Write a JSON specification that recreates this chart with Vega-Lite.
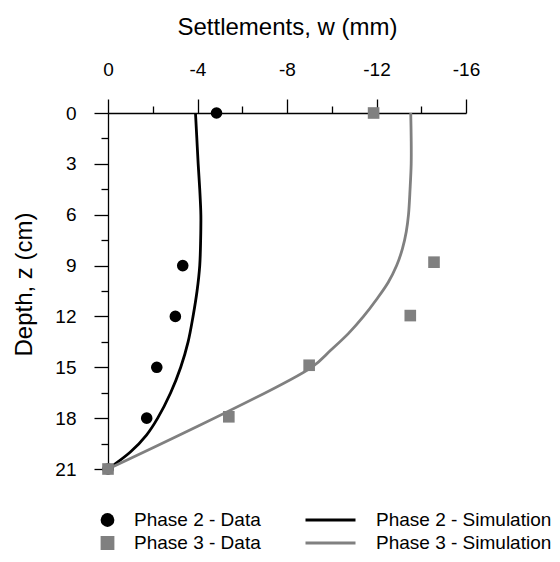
{
  "$schema": "https://vega.github.io/schema/vega-lite/v6.json",
  "width": 358,
  "height": 356,
  "autosize": {"type": "none"},
  "padding": {"left": 108, "top": 113, "right": 94, "bottom": 93},
  "config": {
    "view": {"stroke": null},
    "font": "Liberation Sans",
    "axis": {"labelFont": "Liberation Sans", "titleFont": "Liberation Sans", "labelColor": "#000", "titleColor": "#000", "domainColor": "#000", "tickColor": "#000", "labelFontSize": 19, "titleFontSize": 24, "titleFontWeight": "normal", "grid": false, "domainWidth": 1.3, "tickWidth": 1.3},
    "legend": {"labelFont": "Liberation Sans", "labelFontSize": 19, "labelColor": "#000", "labelLimit": 400}
  },
  "data": {"values": [
    {"series": "Phase 2 - Simulation", "z": 0, "w": -3.91},
    {"series": "Phase 2 - Simulation", "z": 1.5, "w": -3.97},
    {"series": "Phase 2 - Simulation", "z": 3, "w": -4.03},
    {"series": "Phase 2 - Simulation", "z": 4.5, "w": -4.1},
    {"series": "Phase 2 - Simulation", "z": 6, "w": -4.15},
    {"series": "Phase 2 - Simulation", "z": 7.5, "w": -4.14},
    {"series": "Phase 2 - Simulation", "z": 9, "w": -4.1},
    {"series": "Phase 2 - Simulation", "z": 10.5, "w": -3.98},
    {"series": "Phase 2 - Simulation", "z": 12, "w": -3.8},
    {"series": "Phase 2 - Simulation", "z": 13.5, "w": -3.58},
    {"series": "Phase 2 - Simulation", "z": 15, "w": -3.25},
    {"series": "Phase 2 - Simulation", "z": 16.5, "w": -2.8},
    {"series": "Phase 2 - Simulation", "z": 18, "w": -2.22},
    {"series": "Phase 2 - Simulation", "z": 19, "w": -1.72},
    {"series": "Phase 2 - Simulation", "z": 20, "w": -1.0},
    {"series": "Phase 2 - Simulation", "z": 21, "w": 0},
    {"series": "Phase 3 - Simulation", "z": 0, "w": -13.53},
    {"series": "Phase 3 - Simulation", "z": 1.5, "w": -13.55},
    {"series": "Phase 3 - Simulation", "z": 3, "w": -13.55},
    {"series": "Phase 3 - Simulation", "z": 4.5, "w": -13.5},
    {"series": "Phase 3 - Simulation", "z": 6, "w": -13.43},
    {"series": "Phase 3 - Simulation", "z": 7, "w": -13.33},
    {"series": "Phase 3 - Simulation", "z": 8, "w": -13.16},
    {"series": "Phase 3 - Simulation", "z": 9, "w": -12.9},
    {"series": "Phase 3 - Simulation", "z": 10, "w": -12.52},
    {"series": "Phase 3 - Simulation", "z": 11, "w": -12.0},
    {"series": "Phase 3 - Simulation", "z": 12, "w": -11.42},
    {"series": "Phase 3 - Simulation", "z": 13, "w": -10.75},
    {"series": "Phase 3 - Simulation", "z": 14, "w": -9.95},
    {"series": "Phase 3 - Simulation", "z": 15, "w": -9.1},
    {"series": "Phase 3 - Simulation", "z": 21, "w": 0},
    {"series": "Phase 2 - Data", "z": 0, "w": -4.85},
    {"series": "Phase 2 - Data", "z": 9, "w": -3.34},
    {"series": "Phase 2 - Data", "z": 12, "w": -3.01},
    {"series": "Phase 2 - Data", "z": 15, "w": -2.18},
    {"series": "Phase 2 - Data", "z": 18, "w": -1.73},
    {"series": "Phase 2 - Data", "z": 21, "w": 0},
    {"series": "Phase 3 - Data", "z": 0, "w": -11.87},
    {"series": "Phase 3 - Data", "z": 8.8, "w": -14.57},
    {"series": "Phase 3 - Data", "z": 11.95, "w": -13.51},
    {"series": "Phase 3 - Data", "z": 14.88, "w": -8.99},
    {"series": "Phase 3 - Data", "z": 17.92, "w": -5.4},
    {"series": "Phase 3 - Data", "z": 21, "w": 0}
  ]},
  "encoding": {
    "x": {"field": "w", "type": "quantitative", "scale": {"domain": [-16, 0], "reverse": true, "nice": false, "zero": false},
      "axis": {"orient": "top", "title": "Settlements, w (mm)", "values": [0, -2, -4, -6, -8, -10, -12, -14, -16],
        "labelExpr": "datum.value % 4 == 0 ? (datum.value < 0 ? '-' + abs(datum.value) : '0') : ''",
        "tickSize": {"condition": {"test": "datum.value % 4 == 0", "value": 14}, "value": 7},
        "labelPadding": 20, "titlePadding": 21, "labelFlush": false, "labelOverlap": false}},
    "y": {"field": "z", "type": "quantitative", "scale": {"domain": [0, 21], "reverse": true, "nice": false, "zero": false},
      "axis": {"title": "Depth, z (cm)", "values": [0, 1.5, 3, 4.5, 6, 7.5, 9, 10.5, 12, 13.5, 15, 16.5, 18, 19.5, 21],
        "labelExpr": "datum.value % 3 == 0 ? datum.label : ''",
        "tickSize": {"condition": {"test": "datum.value % 3 == 0", "value": 14}, "value": 7},
        "labelPadding": 18, "titlePadding": 18, "titleY": 171, "labelFlush": false, "labelOverlap": false}}
  },
  "layer": [
    {
      "transform": [{"filter": "indexof(datum.series, 'Simulation') >= 0"}],
      "mark": {"type": "line", "interpolate": "catmull-rom", "strokeWidth": 2.8},
      "encoding": {
        "order": {"field": "z", "type": "quantitative"},
        "stroke": {"field": "series", "type": "nominal",
          "scale": {"domain": ["Phase 2 - Simulation", "Phase 3 - Simulation"], "range": ["#000000", "#808080"]},
          "legend": {"orient": "none", "legendX": 196, "legendY": 397, "title": null, "symbolType": "stroke", "symbolSize": 2500, "symbolStrokeWidth": 3, "clipHeight": 20, "labelOffset": 19, "rowPadding": 3, "padding": 0, "labelLimit": 400}}
      }
    },
    {
      "transform": [{"filter": "indexof(datum.series, 'Data') >= 0"}],
      "mark": {"type": "point", "filled": true, "opacity": 1, "size": 135},
      "encoding": {
        "fill": {"field": "series", "type": "nominal",
          "scale": {"domain": ["Phase 2 - Data", "Phase 3 - Data"], "range": ["#000000", "#808080"]},
          "legend": {"orient": "none", "legendX": -10, "legendY": 397, "title": null, "symbolSize": 190, "clipHeight": 20, "labelOffset": 17, "rowPadding": 3, "padding": 0, "symbolOpacity": 1}},
        "shape": {"field": "series", "type": "nominal",
          "scale": {"domain": ["Phase 2 - Data", "Phase 3 - Data"], "range": ["circle", "square"]},
          "legend": {"orient": "none", "legendX": -10, "legendY": 397, "title": null, "symbolSize": 190, "clipHeight": 20, "labelOffset": 17, "rowPadding": 3, "padding": 0, "symbolOpacity": 1}}
      }
    }
  ]
}
